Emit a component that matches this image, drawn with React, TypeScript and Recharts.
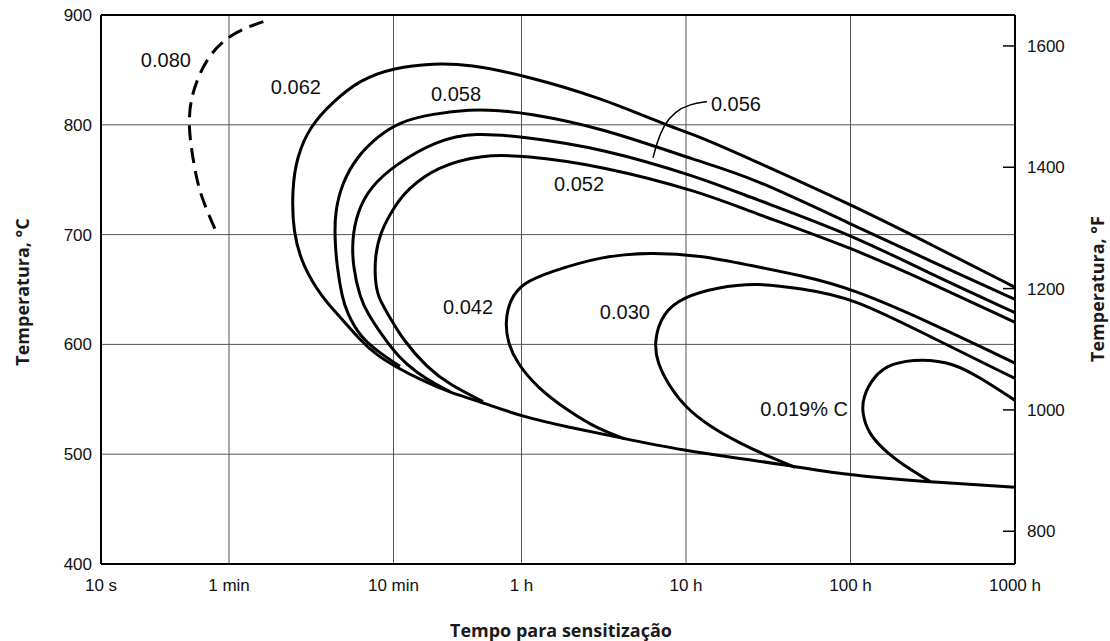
import React from 'react';
import {
  ComposedChart,
  Line,
  XAxis,
  YAxis,
  CartesianGrid,
  ReferenceLine,
  ReferenceDot,
} from 'recharts';

// Tempo em segundos, temperatura em °C. Cada curva: [tempo, temperatura]
type Pt = [number, number];

const curve080: Pt[] = [
  [97, 894], [63, 884], [46, 865], [39, 844], [35, 823], [34, 799],
  [36, 771], [39, 743], [44, 722], [51, 700],
];

// 0.062 continua pela linha inferior comum até 1000 h
const curve062: Pt[] = [
  [3.6e6, 652], [1.18e6, 689], [3.67e5, 727], [8.8e4, 769], [4.4e4, 789],
  [2.9e4, 798], [1.08e4, 825], [3730, 845], [1750, 855], [1040, 856],
  [604, 852], [375, 841], [257, 821], [187, 799], [155, 771], [145, 741],
  [147, 702], [169, 671], [220, 643], [284, 625], [375, 604], [476, 590],
  [630, 579], [869, 568], [1324, 556], [2100, 547], [3670, 534], [6800, 525],
  [1.43e4, 515], [3.6e4, 503], [6.95e4, 497], [1.34e5, 491], [3.43e5, 481],
  [9.9e5, 475], [3.6e6, 470],
];

const curve058: Pt[] = [
  [3.6e6, 641], [1.18e6, 674], [3.67e5, 709], [8.8e4, 753], [4.4e4, 766],
  [1.08e4, 798], [3730, 811], [2670, 813], [1750, 814],
  [1040, 810], [657, 803], [476, 789], [360, 771], [292, 747], [264, 720],
  [264, 695], [272, 671], [292, 643], [313, 629], [375, 607], [497, 592],
  [657, 580],
];

const curve056: Pt[] = [
  [3.6e6, 629], [1.18e6, 662], [3.67e5, 700], [8.8e4, 734], [4.4e4, 752],
  [1.08e4, 779], [3730, 789], [1880, 793], [1100, 786],
  [604, 763], [432, 743], [360, 720], [336, 695], [340, 671], [375, 643],
  [414, 629], [518, 607], [639, 589], [834, 574], [1100, 563], [1324, 557],
];

const curve052: Pt[] = [
  [3.6e6, 620], [1.18e6, 654], [3.67e5, 688], [8.8e4, 721], [4.4e4, 739],
  [1.08e4, 763], [3730, 772], [2100, 773], [1100, 762],
  [725, 741], [604, 725], [497, 702], [463, 680], [463, 659], [483, 643],
  [548, 629], [685, 604], [959, 579], [1324, 563], [2100, 548],
];

const curve042: Pt[] = [
  [3.6e6, 583], [1.1e6, 620], [3.67e5, 651], [1.78e5, 663], [8.8e4, 672],
  [4.4e4, 681], [2.17e4, 684], [1.08e4, 680], [5360, 666],
  [3670, 656], [3060, 641], [2860, 620], [2980, 601], [3380, 583],
  [4470, 561], [6810, 540], [1.08e4, 522], [1.53e4, 514],
];

const curve030: Pt[] = [
  [3.6e6, 569], [1.1e6, 607], [3.67e5, 643], [1.78e5, 651], [9.7e4, 656],
  [5.56e4, 652], [3.45e4, 643], [2.61e4, 629], [2.3e4, 604], [2.4e4, 583],
  [2.88e4, 561], [3.55e4, 543], [5.04e4, 525], [7.66e4, 510], [1.22e5, 496],
  [1.66e5, 488],
];

const curve019: Pt[] = [
  [3.6e6, 549], [2.2e6, 570], [1.51e6, 583], [9.9e5, 587], [6.25e5, 583],
  [4.93e5, 570], [4.29e5, 552], [4.23e5, 538], [4.6e5, 519], [6.0e5, 501],
  [8.3e5, 486], [1.1e6, 475],
];

// linha de chamada do rótulo 0.056
const leader056: Pt[] = [
  [4.83e4, 821], [3.81e4, 819], [3.08e4, 812], [2.64e4, 800], [2.4e4, 784],
  [2.27e4, 770],
];

const labelTexts = ['0.080', '0.062', '0.058', '0.056', '0.052', '0.042', '0.030', '0.019% C'];
const labelTimes = [24.8, 153, 1439, 7.24e4, 8050, 1702, 1.53e4, 1.88e5];
const labelTemps = [859, 834, 828, 819, 746, 634, 629.5, 541];

const timeTicks = [10, 60, 600, 3600, 36000, 360000, 3600000];
const timeTickLabels = ['10 s', '1 min', '10 min', '1 h', '10 h', '100 h', '1000 h'];
const celsiusTicks = [400, 500, 600, 700, 800, 900];
const fahrenheitTicks = [800, 1000, 1200, 1400, 1600];

const toRows = (pts: Pt[]) => pts.map(([t, T]) => ({ t, T }));

const solidCurves = [curve062, curve058, curve056, curve052, curve042, curve030, curve019];

const tickFont = { fontFamily: '"Liberation Sans", Arial, sans-serif', fontSize: 17, fill: '#111' };
const titleStyle: React.CSSProperties = {
  position: 'absolute',
  fontFamily: '"Open Sans", sans-serif',
  fontWeight: 700,
  fontSize: 18,
  color: '#1a1a1a',
  whiteSpace: 'nowrap',
};

export default function App() {
  return (
    <div style={{ position: 'relative', width: 1110, height: 641, background: '#fff', overflow: 'hidden' }}>
      <style>{'html,body{margin:0;padding:0;overflow:hidden}'}</style>
      <ComposedChart width={1110} height={641} margin={{ top: 15, right: 35, bottom: 47, left: 41 }}>
        <CartesianGrid stroke="#555" strokeWidth={1} />
        <XAxis
          dataKey="t"
          type="number"
          scale="log"
          domain={[10, 3600000]}
          allowDataOverflow
          ticks={timeTicks}
          tickFormatter={(v: number) => timeTickLabels[timeTicks.indexOf(v)] ?? ''}
          height={30}
          axisLine={{ stroke: '#000', strokeWidth: 2 }}
          tickLine={false}
          tickSize={6}
          tickMargin={9}
          tick={tickFont}
          interval={0}
        />
        <YAxis
          type="number"
          domain={[400, 900]}
          allowDataOverflow
          ticks={celsiusTicks}
          width={60}
          axisLine={{ stroke: '#000', strokeWidth: 2 }}
          tickLine={false}
          tickSize={6}
          tickMargin={3}
          tick={tickFont}
          interval={0}
        />
        <YAxis
          yAxisId="F"
          orientation="right"
          type="number"
          domain={[746, 1651]}
          allowDataOverflow
          ticks={fahrenheitTicks}
          width={60}
          axisLine={{ stroke: '#000', strokeWidth: 2 }}
          tickLine={{ stroke: '#000', strokeWidth: 1.5 }}
          tickSize={-12}
          tickMargin={24}
          tick={tickFont}
          interval={0}
        />
        <ReferenceLine y={900} stroke="#000" strokeWidth={2} />

        <Line
          data={toRows(curve080)}
          dataKey="T"
          type="basis"
          stroke="#000"
          strokeWidth={3}
          strokeDasharray="15 8"
          dot={false}
          activeDot={false}
          isAnimationActive={false}
        />
        {solidCurves.map((c, i) => (
          <Line
            key={i}
            data={toRows(c)}
            dataKey="T"
            type="basis"
            stroke="#000"
            strokeWidth={3}
            dot={false}
            activeDot={false}
            isAnimationActive={false}
          />
        ))}
        <Line
          data={toRows(leader056)}
          dataKey="T"
          type="basis"
          stroke="#000"
          strokeWidth={1.5}
          dot={false}
          activeDot={false}
          isAnimationActive={false}
        />

        {labelTexts.map((text, i) => (
          <ReferenceDot
            key={text}
            x={labelTimes[i]}
            y={labelTemps[i]}
            r={0}
            shape={(p: any) => (
              <text
                x={p.cx}
                y={p.cy}
                textAnchor="middle"
                dominantBaseline="central"
                fontFamily='"Liberation Sans", Arial, sans-serif'
                fontSize={20}
                fill="#111"
              >
                {text}
              </text>
            )}
          />
        ))}
      </ComposedChart>

      <div style={{ ...titleStyle, left: 22, top: 292, transform: 'translate(-50%, -50%) rotate(-90deg)' }}>
        Temperatura, °C
      </div>
      <div style={{ ...titleStyle, left: 1097, top: 289, transform: 'translate(-50%, -50%) rotate(-90deg)' }}>
        Temperatura, °F
      </div>
      <div style={{ ...titleStyle, left: 561, top: 630, transform: 'translate(-50%, -50%)' }}>
        Tempo para sensitização
      </div>
    </div>
  );
}
